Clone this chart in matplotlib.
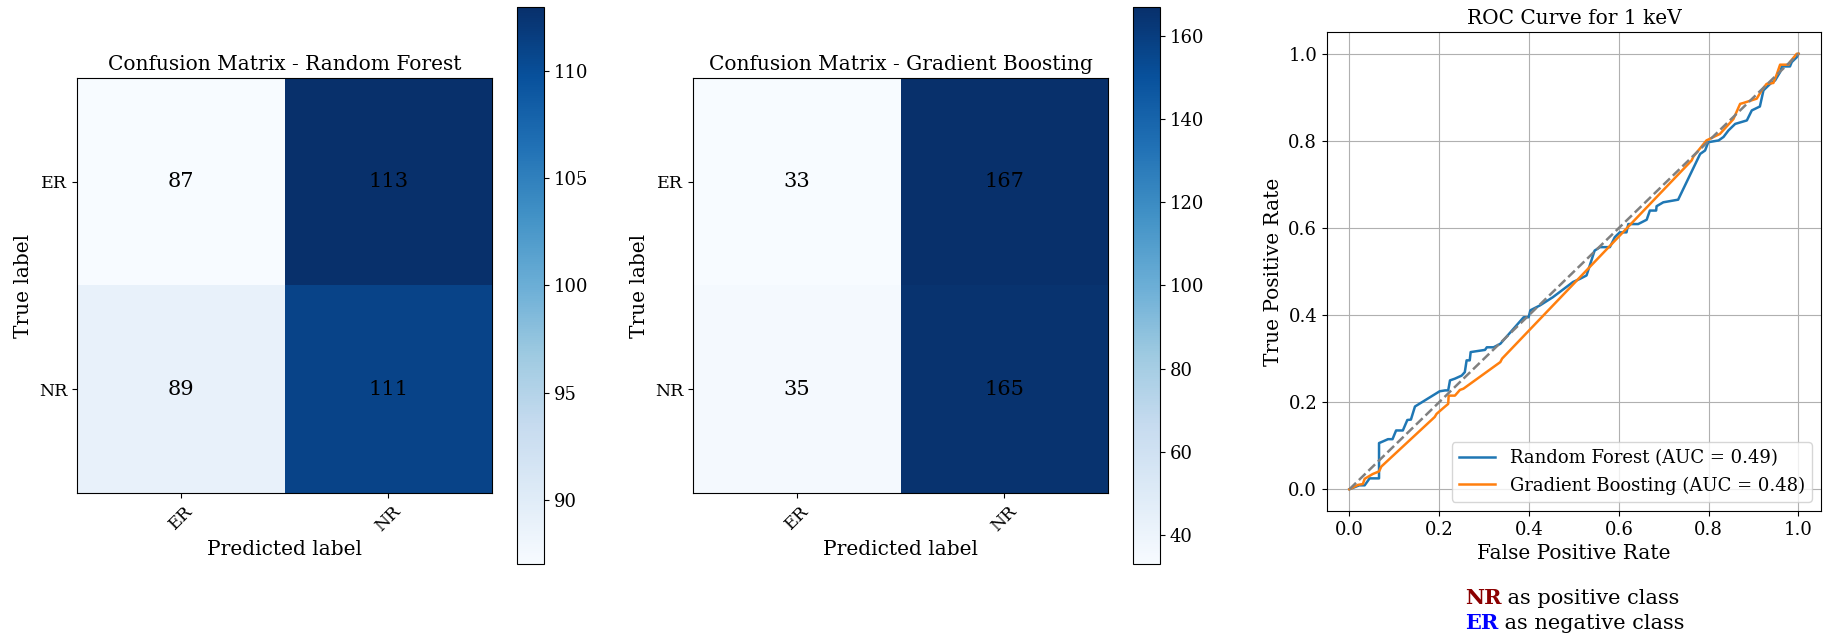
import matplotlib
matplotlib.use("Agg")
import matplotlib.pyplot as plt
import numpy as np

plt.rcParams['font.family'] = 'DejaVu Serif'

classes = ["ER", "NR"]
cm_rf = np.array([[87, 113], [89, 111]])
cm_gb = np.array([[33, 167], [35, 165]])

# ROC points
rf_fpr = [0.0, 0.022, 0.034, 0.045, 0.066, 0.066, 0.075, 0.086, 0.096, 0.104, 0.119, 0.129, 0.137, 0.146,
          0.201, 0.213, 0.220, 0.224, 0.235, 0.250, 0.257, 0.261, 0.268, 0.270, 0.302, 0.306, 0.321, 0.336,
          0.388, 0.399, 0.403, 0.424, 0.453, 0.498, 0.513, 0.528, 0.546, 0.558, 0.580, 0.591, 0.602, 0.617,
          0.621, 0.643, 0.662, 0.669, 0.683, 0.684, 0.699, 0.732, 0.781, 0.792, 0.799, 0.822, 0.833, 0.844,
          0.859, 0.885, 0.896, 0.914, 0.922, 0.937, 0.948, 0.959, 0.963, 0.981, 0.985, 0.996, 1.0]
rf_tpr = [0.0, 0.009, 0.009, 0.025, 0.025, 0.106, 0.110, 0.115, 0.115, 0.135, 0.135, 0.159, 0.160, 0.190,
          0.225, 0.227, 0.227, 0.250, 0.254, 0.261, 0.269, 0.296, 0.296, 0.315, 0.320, 0.326, 0.326, 0.334,
          0.395, 0.395, 0.411, 0.422, 0.441, 0.476, 0.483, 0.491, 0.548, 0.556, 0.556, 0.579, 0.590, 0.590,
          0.609, 0.609, 0.619, 0.640, 0.640, 0.650, 0.659, 0.665, 0.770, 0.778, 0.797, 0.801, 0.809, 0.824,
          0.839, 0.847, 0.870, 0.879, 0.916, 0.931, 0.939, 0.958, 0.971, 0.971, 0.981, 0.992, 1.0]
gb_fpr = [0.0, 0.019, 0.03, 0.034, 0.052, 0.066, 0.071, 0.19, 0.194, 0.213, 0.22, 0.221, 0.235, 0.246,
          0.254, 0.336, 0.34, 0.762, 0.766, 0.795, 0.825, 0.855, 0.87, 0.877, 0.907, 0.918, 0.929, 0.944,
          0.952, 0.959, 0.978, 0.981, 0.996, 1.0]
gb_tpr = [0.0, 0.01, 0.012, 0.024, 0.035, 0.041, 0.052, 0.166, 0.173, 0.19, 0.196, 0.215, 0.215, 0.228,
          0.231, 0.292, 0.3, 0.755, 0.764, 0.801, 0.816, 0.85, 0.885, 0.887, 0.897, 0.916, 0.931, 0.933,
          0.954, 0.975, 0.975, 0.981, 1.0, 1.0]
rf_auc = 0.49
gb_auc = 0.48


def plot_cm(ax, cax, cm, title):
    im = ax.imshow(cm, cmap='Blues', aspect='auto')
    cb = plt.colorbar(im, cax=cax)
    cb.ax.tick_params(labelsize=13)
    ax.set_title(title, fontsize=14.5)
    ax.set_xticks(range(len(classes)))
    ax.set_xticklabels(classes, rotation=45, fontsize=12.5)
    ax.set_yticks(range(len(classes)))
    ax.set_yticklabels(classes, fontsize=12.5)
    for i in range(cm.shape[0]):
        for j in range(cm.shape[1]):
            ax.text(j, i, str(cm[i, j]), ha='center', va='center', color='black', fontsize=15)
    ax.set_xlabel('Predicted label', fontsize=14.5)
    ax.set_ylabel('True label', fontsize=14.5)


def main():
    fig = plt.figure(figsize=(18.29, 6.33), dpi=100)

    ax1 = fig.add_axes([0.0421, 0.2212, 0.2269, 0.6556])
    cax1 = fig.add_axes([0.2827, 0.1090, 0.0148, 0.880])
    ax2 = fig.add_axes([0.3789, 0.2212, 0.2269, 0.6556])
    cax2 = fig.add_axes([0.6195, 0.1090, 0.0148, 0.880])
    ax3 = fig.add_axes([0.7255, 0.1927, 0.2701, 0.7567])

    plot_cm(ax1, cax1, cm_rf, 'Confusion Matrix - Random Forest')
    plot_cm(ax2, cax2, cm_gb, 'Confusion Matrix - Gradient Boosting')

    ax3.plot(rf_fpr, rf_tpr, lw=1.8, label='Random Forest (AUC = %.2f)' % rf_auc)
    ax3.plot(gb_fpr, gb_tpr, lw=1.8, label='Gradient Boosting (AUC = %.2f)' % gb_auc)
    ax3.plot([0, 1], [0, 1], linestyle='--', color='gray', lw=1.8)
    ax3.set_xlim(-0.05, 1.05)
    ax3.set_ylim(-0.05, 1.05)
    ax3.set_xlabel('False Positive Rate', fontsize=14.5)
    ax3.set_ylabel('True Positive Rate', fontsize=14.5)
    ax3.set_title('ROC Curve for 1 keV', fontsize=14.5)
    ax3.tick_params(labelsize=13)
    ax3.legend(loc='lower right', fontsize=13)
    ax3.grid(True)

    # class note under the ROC plot: bold coloured class name + plain text
    notes = [('NR', 'darkred', ' as positive class', 0.0458),
             ('ER', 'blue', ' as negative class', 0.0063)]
    for name, col, rest, y in notes:
        t = fig.text(0.8008, y, name, color=col, fontweight='bold', fontsize=15, va='baseline')
        ax3.annotate(rest, xy=(1, 0), xycoords=t, va='bottom', ha='left', fontsize=15,
                     annotation_clip=False)

    fig.savefig('out.png', dpi=100)


if __name__ == "__main__":
    main()
